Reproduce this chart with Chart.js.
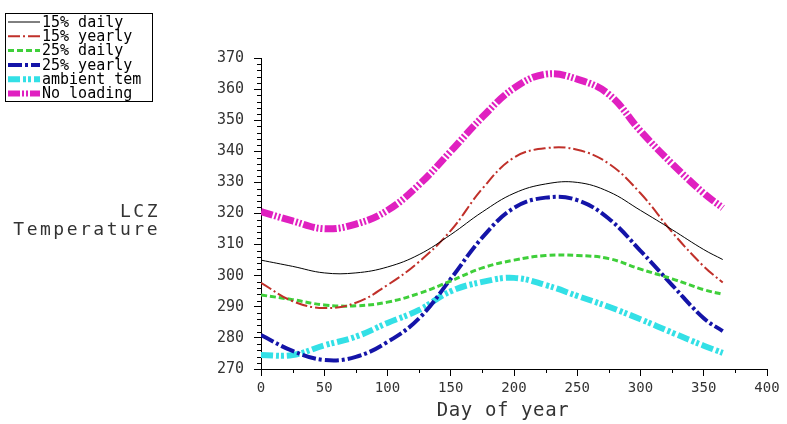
<!DOCTYPE html>
<html lang="en">
<head>
    <meta charset="UTF-8">
    <title>LCZ Temperature</title>
    <script src="https://cdn.jsdelivr.net/npm/chart.js"></script>
    <style>
        html, body { margin: 0; padding: 0; background: #fff; }
        #chartContainer { width: 787px; height: 424px; position: relative; }
    </style>
</head>
<body>
    <div id="chartContainer">
        <canvas id="lczChart"></canvas>
    </div>

    <script>
        // day of year samples
        var days = [0, 25, 50, 75, 100, 125, 150, 175, 200, 225, 250, 275, 300, 325, 350, 365];

        var daily15   = [305, 303, 300.9, 300.9, 302.8, 306.8, 313.2, 320.5, 326.5, 329.5, 330, 327, 321, 314.8, 308.4, 305.2];
        var yearly15  = [297.7, 291.8, 289.6, 291.3, 297, 304.5, 314.5, 328, 338, 341, 340.5, 336, 326.5, 314, 303, 297.8];
        var daily25   = [293.8, 292.3, 290.6, 290.3, 291.5, 294.3, 298.3, 302.5, 305, 306.5, 306.5, 305.5, 302.1, 299, 295.5, 294];
        var yearly25  = [280.9, 275.8, 272.9, 273.9, 278.7, 286.3, 299, 312.3, 321.8, 325.1, 324.3, 318.3, 308, 297, 286.3, 282.2];
        var ambient   = [274.5, 274.5, 277.6, 280.4, 284.8, 289, 295, 298, 299.3, 297, 293.5, 290, 286, 281.7, 277.5, 275.2];
        var noLoading = [320.6, 317.6, 315.1, 316.6, 321, 329.3, 340, 351, 360.3, 364.8, 363.2, 358.3, 346.5, 336, 326.5, 321.8];

        var seriesNames = ['15% daily', '15% yearly', '25% daily', '25% yearly', 'ambient tem', 'No loading'];

        var xTicks = [0, 50, 100, 150, 200, 250, 300, 350, 400];
        var yTicks = [270, 280, 290, 300, 310, 320, 330, 340, 350, 360, 370];

        var monoFont = '"DejaVu Sans Mono", "Liberation Mono", monospace';

        function pts(values) {
            return values.map((v, i) => ({ x: days[i], y: v }));
        }

        var extras = {
            id: 'extras',
            afterDraw(chart) {
                const ctx = chart.ctx;
                const xs = chart.scales.x, ys = chart.scales.y;
                ctx.save();

                // minor ticks
                ctx.strokeStyle = '#000';
                ctx.lineWidth = 1;
                ctx.beginPath();
                for (let v = yTicks[0]; v < yTicks[yTicks.length - 1]; v += 2) {
                    if (v % 10 === 0) continue;
                    const py = Math.round(ys.getPixelForValue(v)) + 0.5;
                    ctx.moveTo(xs.left - 4, py);
                    ctx.lineTo(xs.left, py);
                }
                for (let d = 25; d < 400; d += 50) {
                    const px = Math.round(xs.getPixelForValue(d)) + 0.5;
                    ctx.moveTo(px, ys.bottom);
                    ctx.lineTo(px, ys.bottom + 4);
                }
                ctx.stroke();

                // axis titles
                ctx.fillStyle = '#333';
                ctx.font = '18px ' + monoFont;
                ctx.letterSpacing = '2.5px';
                ctx.textBaseline = 'middle';
                ctx.textAlign = 'right';
                ctx.fillText('LCZ', 160, 212);
                ctx.fillText('Temperature', 160, 230);
                ctx.font = '19px ' + monoFont;
                ctx.letterSpacing = '0.6px';
                ctx.textAlign = 'center';
                ctx.fillText('Day of year', 503, 411);
                ctx.letterSpacing = '0px';

                // legend box
                ctx.strokeStyle = '#000';
                ctx.lineWidth = 1;
                ctx.strokeRect(5.5, 13.5, 147, 88);
                ctx.font = '15px ' + monoFont;
                ctx.textAlign = 'left';
                chart.data.datasets.forEach((ds, i) => {
                    const y = 22 + i * 14.3;
                    ctx.save();
                    ctx.beginPath();
                    ctx.setLineDash(ds.borderDash || []);
                    ctx.strokeStyle = ds.borderColor;
                    ctx.lineWidth = Math.min(ds.borderWidth, 6);
                    ctx.moveTo(8, y);
                    ctx.lineTo(40, y);
                    ctx.stroke();
                    ctx.restore();
                    ctx.fillStyle = '#000';
                    ctx.fillText(ds.label, 42, y + 1);
                });
                ctx.restore();
            }
        };

        var ctx = document.getElementById('lczChart').getContext('2d');

        var lczChart = new Chart(ctx, {
            type: 'line',
            data: {
                datasets: [
                    { label: seriesNames[0], data: pts(daily15),   borderColor: '#000000', borderWidth: 1, borderDash: [] },
                    { label: seriesNames[1], data: pts(yearly15),  borderColor: '#c0302a', borderWidth: 2, borderDash: [12, 3, 2, 3] },
                    { label: seriesNames[2], data: pts(daily25),   borderColor: '#3fcf3a', borderWidth: 3, borderDash: [6, 3] },
                    { label: seriesNames[3], data: pts(yearly25),  borderColor: '#1414a8', borderWidth: 4, borderDash: [14, 3, 3, 3] },
                    { label: seriesNames[4], data: pts(ambient),   borderColor: '#33e0e6', borderWidth: 6, borderDash: [12, 3, 3, 2, 3, 3] },
                    { label: seriesNames[5], data: pts(noLoading), borderColor: '#e020c0', borderWidth: 7, borderDash: [12, 2, 2, 2, 2, 2] }
                ]
            },
            options: {
                responsive: true,
                maintainAspectRatio: false,
                animation: false,
                layout: { padding: { top: 58, right: 20, bottom: 0, left: 0 } },
                elements: {
                    point: { radius: 0 },
                    line: { tension: 0.4, fill: false }
                },
                plugins: {
                    legend: { display: false },
                    tooltip: { enabled: false }
                },
                scales: {
                    x: {
                        type: 'linear',
                        min: xTicks[0],
                        max: xTicks[xTicks.length - 1],
                        afterBuildTicks: scale => { scale.ticks = xTicks.map(v => ({ value: v })); },
                        afterFit: scale => { scale.height = 55; },
                        grid: { drawOnChartArea: false, drawTicks: true, tickLength: 7, color: '#000' },
                        border: { display: true, color: '#000', width: 1 },
                        ticks: { color: '#333', font: { family: monoFont, size: 14 }, padding: 4, maxRotation: 0 }
                    },
                    y: {
                        min: yTicks[0],
                        max: yTicks[yTicks.length - 1],
                        afterBuildTicks: scale => { scale.ticks = yTicks.map(v => ({ value: v })); },
                        afterFit: scale => { scale.width = 261; },
                        grid: { drawOnChartArea: false, drawTicks: true, tickLength: 7, color: '#000' },
                        border: { display: true, color: '#000', width: 1 },
                        ticks: { color: '#333', font: { family: monoFont, size: 15 }, padding: 10 }
                    }
                }
            },
            plugins: [extras]
        });
    </script>
</body>
</html>
